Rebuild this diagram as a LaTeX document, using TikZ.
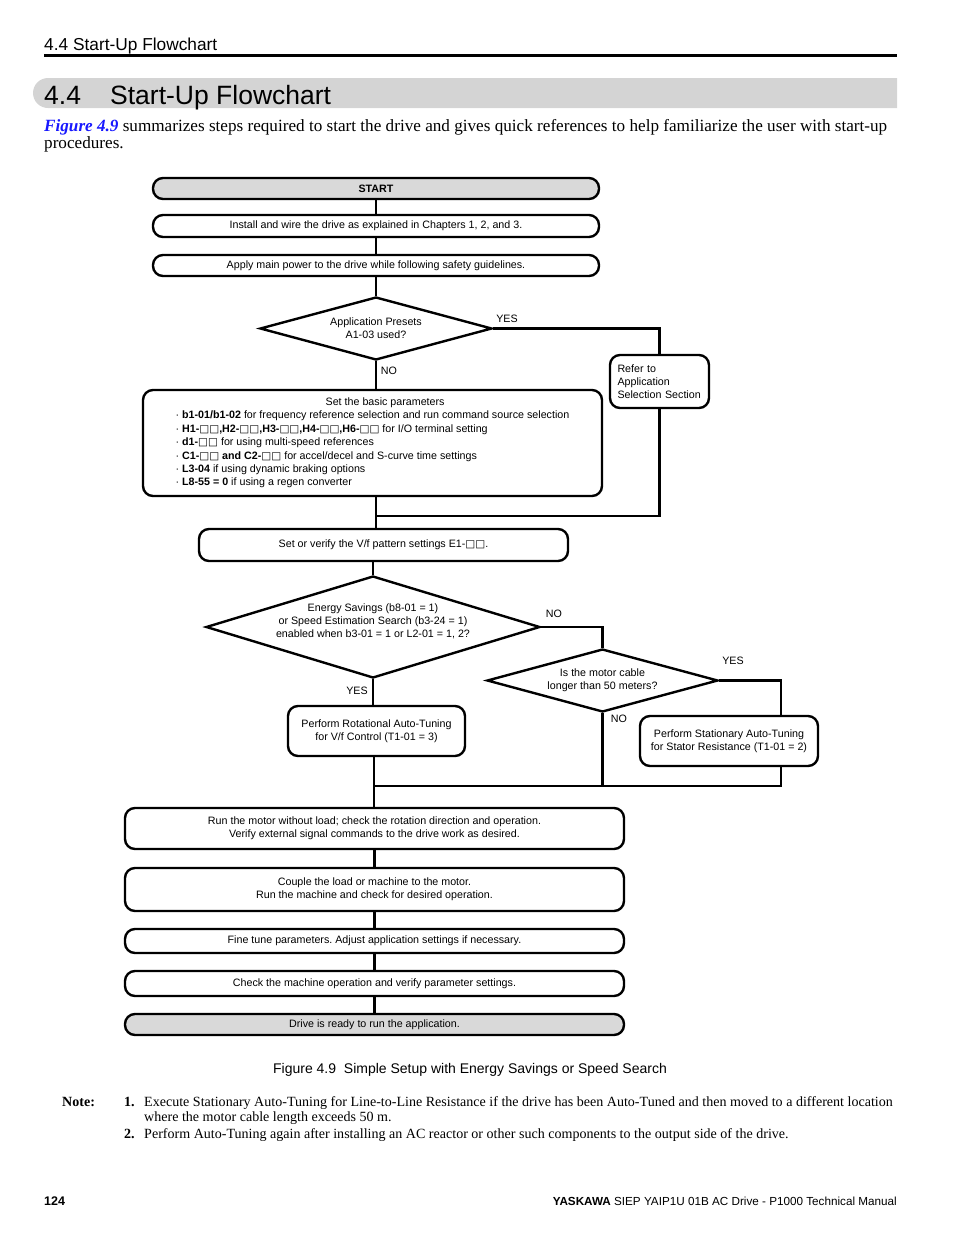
\documentclass[tikz,border=0pt]{standalone}
\usepackage{fontspec}
\setmainfont{Liberation Serif}
\setsansfont{Liberation Sans}
\newfontfamily\symfont{DejaVu Sans}
\usetikzlibrary{shapes.geometric}

\definecolor{bandgray}{RGB}{212,212,212}
\definecolor{boxgray}{RGB}{217,217,217}
\definecolor{refblue}{RGB}{24,24,255}

\newcommand{\sq}{{\symfont\fontsize{10.5}{13}\selectfont □}}
\frenchspacing

\begin{document}
\begin{tikzpicture}[
  x=1pt, y=-1pt,
  every node/.style={inner sep=0pt, font=\sffamily\fontsize{10.7}{13}\selectfont},
  stepbox/.style={draw, line width=2.4pt, rounded corners=10pt, align=center},
  decision/.style={draw, diamond, line width=2.4pt, align=center},
  link/.style={line width=2.4pt},
  pagetext/.style={anchor=base west}
]
\useasboundingbox (0,0) rectangle (954,1235);

% Page heading
\node[pagetext, font=\sffamily\fontsize{17.3}{20}\selectfont] (runhead) at (44,50) {4.4 Start-Up Flowchart};
\draw[line width=3pt] (44,55.5) -- (897,55.5);
\begin{scope}
  \clip (0,0) rectangle (897,1235);
  \fill[bandgray, rounded corners=15pt] (33,78) rectangle (930,108);
\end{scope}
\node[pagetext, font=\sffamily\fontsize{26.5}{30}\selectfont] (secnum) at (44,104) {4.4};
\node[pagetext, font=\sffamily\fontsize{26.5}{30}\selectfont] (sectitle) at (110,104) {Start-Up Flowchart};
\node[anchor=north west, align=left, font=\rmfamily\fontsize{17.15}{17}\selectfont] (intro) at (44,119)
  {{\color{refblue}\bfseries\itshape Figure 4.9} summarizes steps required to start the drive and gives quick references to help familiarize the user with start-up\\procedures.};

% Nodes
\node[stepbox, fill=boxgray, minimum width=446, minimum height=21, font=\sffamily\bfseries\fontsize{10.7}{13}\selectfont] (start) at (376,188.5) {START};
\node[stepbox, minimum width=446, minimum height=22] (install) at (376,226) {Install and wire the drive as explained in Chapters 1, 2, and 3.};
\node[stepbox, minimum width=446, minimum height=21] (power) at (376,265.5) {Apply main power to the drive while following safety guidelines.};
\node[decision, shape aspect=3.7, minimum width=232, minimum height=63] (presets) at (376,328.5) {Application Presets\\A1-03 used?};
\node[stepbox, minimum width=99, minimum height=53, text width=84, align=left] (refer) at (659.5,381.5) {Refer to\\Application\\Selection Section};
\node[stepbox, minimum width=459, minimum height=106, align=left, font=\sffamily\fontsize{10.7}{13.4}\selectfont] (params) at (372.5,443)
  {\hspace*{150pt}Set the basic parameters\\
   · \textbf{b1-01/b1-02} for frequency reference selection and run command source selection\\
   · \textbf{H1-\sq\sq,H2-\sq\sq,H3-\sq\sq,H4-\sq\sq,H6-\sq\sq} for I/O terminal setting\\
   · \textbf{d1-\sq\sq} for using multi-speed references\\
   · \textbf{C1-\sq\sq\ and C2-\sq\sq} for accel/decel and S-curve time settings\\
   · \textbf{L3-04} if using dynamic braking options\\
   · \textbf{L8-55 = 0} if using a regen converter};
\node[stepbox, minimum width=369, minimum height=32] (vf) at (383.5,545) {Set or verify the V/f pattern settings E1-\sq\sq.};
\node[decision, shape aspect=3.3, minimum width=334, minimum height=102] (savings) at (373,627)
  {\raisebox{2pt}[0pt][0pt]{\begin{tabular}{@{}c@{}}Energy Savings (b8-01 = 1)\\or Speed Estimation Search (b3-24 = 1)\\enabled when b3-01 = 1 or L2-01 = 1, 2?\end{tabular}}};
\node[decision, shape aspect=3.67, minimum width=231, minimum height=63] (cable) at (602.5,680.5) {Is the motor cable\\longer than 50 meters?};
\node[stepbox, minimum width=177, minimum height=50] (rot) at (376.5,731) {Perform Rotational Auto-Tuning\\for V/f Control (T1-01 = 3)};
\node[stepbox, minimum width=178, minimum height=50] (stat) at (729,741) {Perform Stationary Auto-Tuning\\for Stator Resistance (T1-01 = 2)};
\node[stepbox, minimum width=499, minimum height=41] (run) at (374.5,828.5) {Run the motor without load; check the rotation direction and operation.\\Verify external signal commands to the drive work as desired.};
\node[stepbox, minimum width=499, minimum height=43] (couple) at (374.5,889.5) {Couple the load or machine to the motor.\\Run the machine and check for desired operation.};
\node[stepbox, minimum width=499, minimum height=24] (tune) at (374.5,941) {Fine tune parameters. Adjust application settings if necessary.};
\node[stepbox, minimum width=499, minimum height=25] (check) at (374.5,983.5) {Check the machine operation and verify parameter settings.};
\node[stepbox, fill=boxgray, minimum width=499, minimum height=21] (ready) at (374.5,1024.5) {Drive is ready to run the application.};

% Branch labels
\node (yes1) at (507,319) {YES};
\node (no1) at (389,371) {NO};
\node (no2) at (554,614) {NO};
\node (yes2) at (357,691) {YES};
\node (yes3) at (733,661) {YES};
\node (no3) at (619,719) {NO};

% Lines
\coordinate (merge1) at (376,516);
\coordinate (merge2) at (374,786);
\draw[link] (start) -- (install);
\draw[link] (install) -- (power);
\draw[link] (power) -- (presets);
\draw[link] (presets.east) -| (refer.north);
\draw[link] (presets.south) -- (presets.south |- params.north);
\draw[link] (refer.south) |- (merge1);
\draw[link] (params.south -| merge1) -- (merge1 |- vf.north);
\draw[link] (vf.south -| savings.north) -- (savings.north);
\draw[link] (savings.east) -| (cable.north);
\draw[link] (cable.east) -| ([xshift=52pt]stat.north);
\draw[link] (savings.south) -- (savings.south |- rot.north);
\draw[link] (rot.south -| merge2) -- (merge2 |- run.north);
\draw[link] (cable.south) |- (merge2);
\draw[link] ([xshift=52pt]stat.south) |- (merge2);
\draw[link] (run) -- (couple);
\draw[link] (couple) -- (tune);
\draw[link] (tune) -- (check);
\draw[link] (check) -- (ready);

% Caption, notes and footer
\node[font=\sffamily\fontsize{14}{16}\selectfont, anchor=base] (caption) at (470,1073) {Figure 4.9\ \ Simple Setup with Energy Savings or Speed Search};
\node[pagetext, font=\rmfamily\bfseries\fontsize{14.05}{15}\selectfont] (notehead) at (62,1106) {Note:};
\node[pagetext, font=\rmfamily\bfseries\fontsize{14.05}{15}\selectfont] (num1) at (124,1106) {1.};
\node[anchor=north west, align=left, font=\rmfamily\fontsize{14.05}{15}\selectfont] (note1) at (144,1096)
  {Execute Stationary Auto-Tuning for Line-to-Line Resistance if the drive has been Auto-Tuned and then moved to a different location\\where the motor cable length exceeds 50 m.};
\node[pagetext, font=\rmfamily\bfseries\fontsize{14.05}{15}\selectfont] (num2) at (124,1138) {2.};
\node[pagetext, font=\rmfamily\fontsize{14.05}{15}\selectfont] (note2) at (144,1138) {Perform Auto-Tuning again after installing an AC reactor or other such components to the output side of the drive.};
\node[pagetext, font=\sffamily\bfseries\fontsize{12.5}{14}\selectfont] (pageno) at (44,1205) {124};
\node[anchor=base east, font=\sffamily\fontsize{11.7}{14}\selectfont] (manual) at (897,1205) {\textbf{YASKAWA} SIEP YAIP1U 01B AC Drive - P1000 Technical Manual};
\end{tikzpicture}
\end{document}
